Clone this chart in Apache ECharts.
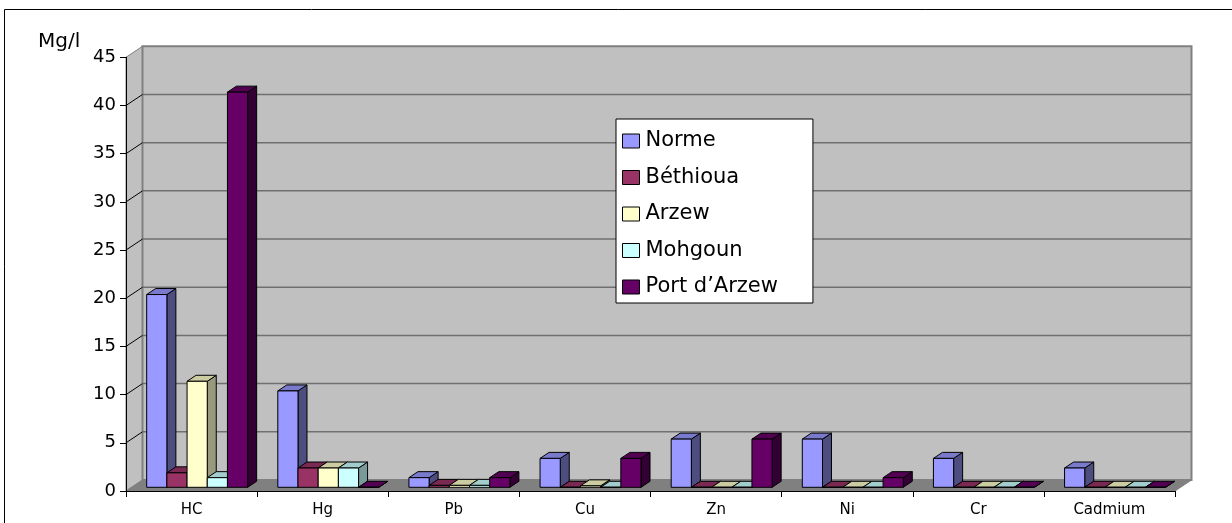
<!DOCTYPE html>
<html>
<head>
<meta charset="utf-8">
<script src="https://cdn.jsdelivr.net/npm/echarts@6/dist/echarts.min.js"></script>
<style>
  html, body { margin: 0; padding: 0; background: #fff; }
  #chart { width: 1232px; height: 523px; }
</style>
</head>
<body>
<div id="chart"></div>
<script>
const categories = ['HC', 'Hg', 'Pb', 'Cu', 'Zn', 'Ni', 'Cr', 'Cadmium']
const yTicks = [0, 5, 10, 15, 20, 25, 30, 35, 40, 45]

const normeVals = [20, 10, 1, 3, 5, 5, 3, 2]
const bethiouaVals = [1.5, 2, 0.2, 0, 0, 0, 0, 0]
const arzewVals = [11, 2, 0.2, 0.15, 0, 0, 0, 0]
const mohgounVals = [1, 2, 0.2, 0, 0, 0, 0, 0]
const portVals = [41, 0, 1, 3, 5, 1, 0, 0]

const seriesDefs = [
  { name: 'Norme', values: normeVals, front: '#9999FF', top: '#7A7ACC', side: '#4D4D80' },
  { name: 'Béthioua', values: bethiouaVals, front: '#993366', top: '#7A2952', side: '#4D1A33' },
  { name: 'Arzew', values: arzewVals, front: '#FFFFCC', top: '#CCCCA3', side: '#999980' },
  { name: 'Mohgoun', values: mohgounVals, front: '#CCFFFF', top: '#A3CCCC', side: '#7A9999' },
  { name: 'Port d’Arzew', values: portVals, front: '#660066', top: '#520052', side: '#330033' },
]

const FONT = 'DejaVu Sans'
// depth of the floor / walls, and of a bar
const DX = 16.5, DY = -11
const BDX = 9, BDY = -6
const FX = 5.6, FY = -3.7

function renderWalls(params, api) {
  const cs = params.coordSys
  const x0 = cs.x, x1 = cs.x + cs.width
  const yTop = cs.y, yBot = cs.y + cs.height
  const children = [
    {
      type: 'polygon',
      shape: { points: [[x0, yTop], [x0 + DX, yTop + DY], [x0 + DX, yBot + DY], [x0, yBot]] },
      style: { fill: '#C0C0C0', stroke: '#808080', lineWidth: 1 },
    },
    {
      type: 'rect',
      shape: { x: x0 + DX, y: yTop + DY, width: cs.width, height: cs.height },
      style: { fill: '#C0C0C0', stroke: '#808080', lineWidth: 2 },
    },
  ]
  yTicks.forEach(v => {
    if (v === 0 || v === yTicks[yTicks.length - 1]) return
    const y = api.coord([0, v])[1]
    children.push({
      type: 'line',
      shape: { x1: x0 + DX, y1: y + DY, x2: x1 + DX, y2: y + DY },
      style: { stroke: '#707070', lineWidth: 1.5 },
    })
    children.push({
      type: 'line',
      shape: { x1: x0, y1: y, x2: x0 + DX, y2: y + DY },
      style: { stroke: '#000', lineWidth: 1 },
    })
  })
  children.push({
    type: 'polygon',
    shape: { points: [[x0, yBot], [x1, yBot], [x1 + DX, yBot + DY], [x0 + DX, yBot + DY]] },
    style: { fill: '#808080', stroke: '#808080', lineWidth: 1 },
  })
  return { type: 'group', children }
}

function makeBarRenderer(s) {
  const def = seriesDefs[s]
  return function (params, api) {
    const i = api.value(0)
    const v = api.value(1)
    const base = api.coord([i, 0])
    const topPt = api.coord([i, v])
    const band = api.size([1, 0])[0]
    const bw = band * 0.154
    const x = base[0] - 2.5 * bw + s * bw + FX
    const yb = base[1] + FY
    const yt = topPt[1] + FY
    const line = { stroke: '#000', lineWidth: 1, lineJoin: 'round' }
    return {
      type: 'group',
      children: [
        {
          type: 'polygon',
          shape: { points: [[x + bw, yt], [x + bw + BDX, yt + BDY], [x + bw + BDX, yb + BDY], [x + bw, yb]] },
          style: Object.assign({ fill: def.side }, line),
        },
        {
          type: 'polygon',
          shape: { points: [[x, yt], [x + BDX, yt + BDY], [x + bw + BDX, yt + BDY], [x + bw, yt]] },
          style: Object.assign({ fill: def.top }, line),
        },
        {
          type: 'rect',
          shape: { x: x, y: yt, width: bw, height: Math.max(yb - yt, 0) },
          style: Object.assign({ fill: def.front }, line),
        },
      ],
    }
  }
}

const chart = echarts.init(document.getElementById('chart'))

const series = [
  {
    type: 'custom',
    name: 'walls',
    silent: true,
    z: 1,
    clip: false,
    data: [[0, 0]],
    renderItem: renderWalls,
  },
].concat(seriesDefs.map((d, s) => ({
  type: 'custom',
  name: d.name,
  z: 2,
  clip: false,
  itemStyle: { color: d.front },
  data: categories.map((c, i) => [i, d.values[i]]),
  renderItem: makeBarRenderer(s),
})))

chart.setOption({
  animation: false,
  graphic: [
    {
      type: 'rect',
      shape: { x: 4.5, y: 9.5, width: 1400, height: 700 },
      style: { fill: 'none', stroke: '#000', lineWidth: 1 },
    },
    {
      type: 'text',
      left: 38,
      top: 32,
      style: { text: 'Mg/l', font: '20px "' + FONT + '"', fill: '#000' },
    },
  ],
  legend: {
    orient: 'vertical',
    left: 616,
    top: 119,
    data: seriesDefs.map(d => ({ name: d.name, icon: 'rect' })),
    itemWidth: 17,
    itemHeight: 14,
    itemGap: 12.5,
    padding: [10, 35, 4, 6],
    backgroundColor: '#fff',
    borderColor: '#000',
    borderWidth: 1,
    borderRadius: 0,
    itemStyle: { borderColor: '#000', borderWidth: 1 },
    textStyle: { fontFamily: FONT, fontSize: 21, color: '#000', lineHeight: 24, padding: [0, 0, 0, 1] },
  },
  grid: { left: 126, right: 57, top: 57.3, bottom: 32 },
  xAxis: {
    type: 'category',
    data: categories,
    boundaryGap: true,
    axisLine: { show: true, lineStyle: { color: '#000', width: 1 } },
    axisTick: { show: true, length: 6, lineStyle: { color: '#000' } },
    axisLabel: { fontFamily: FONT, fontSize: 15, color: '#000', margin: 12 },
    splitLine: { show: false },
    z: 5,
  },
  yAxis: {
    type: 'value',
    min: yTicks[0],
    max: yTicks[yTicks.length - 1],
    interval: yTicks[1] - yTicks[0],
    axisLine: { show: true, lineStyle: { color: '#000', width: 1 } },
    axisTick: { show: true, length: 6, lineStyle: { color: '#000' } },
    axisLabel: { fontFamily: FONT, fontSize: 18, color: '#000', margin: 10 },
    splitLine: { show: false },
    z: 5,
  },
  series,
})
</script>
</body>
</html>
